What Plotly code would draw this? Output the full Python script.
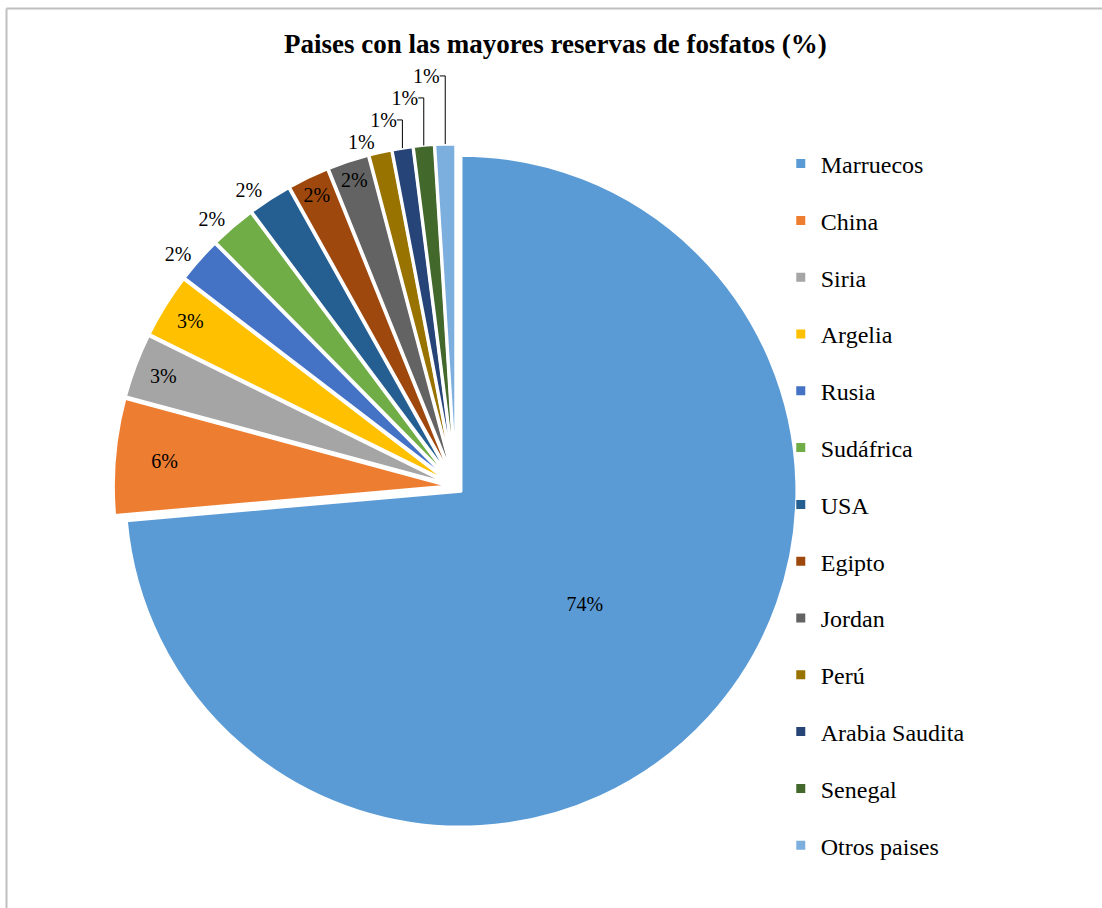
import plotly.graph_objects as go

# ---- data ----
countries = ["Marruecos", "China", "Siria", "Argelia", "Rusia", "Sudáfrica", "USA",
             "Egipto", "Jordan", "Perú", "Arabia Saudita", "Senegal", "Otros paises"]
shares = [73.6, 5.6, 3.1, 3.1, 2.2, 2.2, 2.1, 2.0, 2.0, 1.1, 1.0, 1.0, 1.0]
colors = ["#5B9BD5", "#ED7D31", "#A5A5A5", "#FFC000", "#4472C4", "#70AD47", "#255E91",
          "#9E480E", "#636363", "#997300", "#264478", "#43682B", "#7CAFDD"]
text_pos = ["inside", "inside", "inside", "inside", "outside", "outside", "outside",
            "inside", "inside", "outside", "outside", "outside", "outside"]
text_size = [22, 22, 22, 22, 22, 22, 22, 22, 22, 20, 20, 20, 20]
title_text = "Paises con las mayores reservas de fosfatos (%)"

FONT = "Liberation Serif, Times New Roman, serif"

fig = go.Figure()
fig.add_trace(go.Pie(
    labels=countries, values=shares,
    sort=False, direction="clockwise", rotation=0,
    marker=dict(colors=colors, line=dict(color="white", width=3)),
    pull=0.02,
    texttemplate="%{percent:.0%}",
    textposition=text_pos,
    insidetextorientation="horizontal",
    textfont=dict(family=FONT, size=text_size, color="black"),
    showlegend=False,
    domain=dict(x=[0.1028, 0.7248], y=[0.0867, 0.8415]),
    hoverinfo="label+percent",
))

# legend entries (one per country)
for c, col in zip(countries, colors):
    fig.add_trace(go.Scatter(
        x=[None], y=[None], mode="markers", name=c, legendgroup=c,
        marker=dict(symbol="square", size=9, color=col),
        hoverinfo="skip",
    ))

fig.update_layout(
    width=1102, height=908,
    margin=dict(l=0, r=0, t=0, b=0),
    paper_bgcolor="white", plot_bgcolor="white",
    title=dict(text="<b>" + title_text + "</b>", x=0.504, xanchor="center",
               y=1 - 44 / 908, yanchor="middle",
               font=dict(family=FONT, size=27, color="black")),
    xaxis=dict(visible=False), yaxis=dict(visible=False),
    legend=dict(x=0.7085, xanchor="left", y=1 - 141.5 / 908, yanchor="top",
                font=dict(family=FONT, size=24, color="black"),
                tracegroupgap=22.6, itemwidth=30, bgcolor="rgba(0,0,0,0)"),
    uniformtext=dict(minsize=20, mode="show"),
    shapes=[
        dict(type="line", xref="paper", yref="paper", x0=6.5 / 1102, x1=1,
             y0=1 - 8.5 / 908, y1=1 - 8.5 / 908, line=dict(color="#BFBFBF", width=2)),
        dict(type="line", xref="paper", yref="paper", x0=6.5 / 1102, x1=6.5 / 1102,
             y0=0, y1=1 - 8.5 / 908, line=dict(color="#BFBFBF", width=2)),
    ],
)

fig.write_html("out.html", config={"displayModeBar": False},
               post_script="document.body.style.margin='0';")
